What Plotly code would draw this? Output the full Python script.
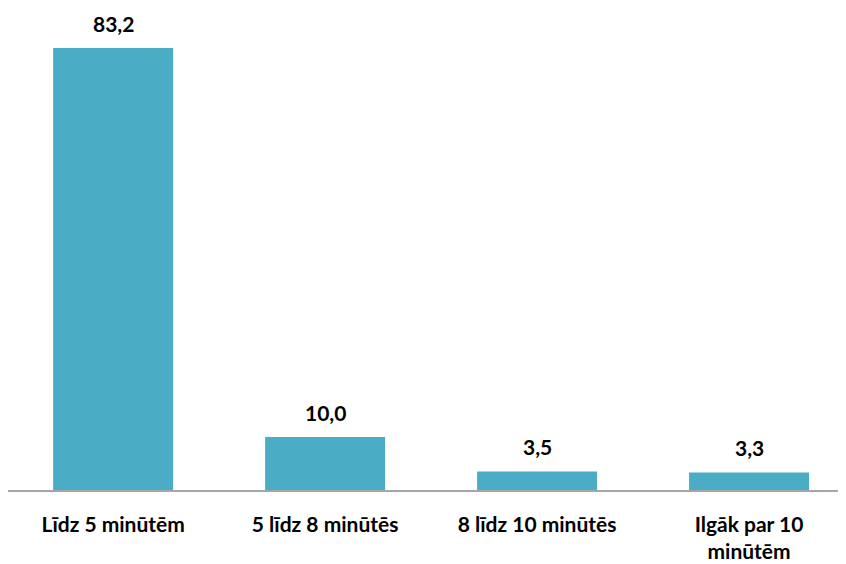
import plotly.graph_objects as go

categories = ["Līdz 5 minūtēm", "5 līdz 8 minūtēs", "8 līdz 10 minūtēs", "Ilgāk par 10<br>minūtēm"]
values = [83.2, 10.0, 3.5, 3.3]
value_labels = ["83,2", "10,0", "3,5", "3,3"]

FONT = "Lato"
fig = go.Figure()
fig.add_trace(go.Bar(
    x=list(range(len(categories))), y=values,
    marker=dict(color="#4BACC6", line=dict(width=0)),
    width=0.566, hoverinfo="skip",
))
for i, (v, t) in enumerate(zip(values, value_labels)):
    fig.add_annotation(x=i, y=v, text="<b>%s</b>" % t, showarrow=False,
                       yanchor="bottom", yshift=10,
                       font=dict(family=FONT, size=21, color="#000000"))

fig.update_layout(
    width=846, height=564,
    margin=dict(l=0, r=0, t=0, b=82),
    paper_bgcolor="white", plot_bgcolor="white",
    showlegend=False,
    xaxis=dict(
        range=[-0.496, 3.495],
        tickmode="array", tickvals=list(range(len(categories))),
        ticktext=["<b>%s</b>" % c for c in categories],
        tickfont=dict(family=FONT, size=21, color="#000000"),
        showline=True, linecolor="#A6A6A6", linewidth=1.5,
        showgrid=False, ticks="", zeroline=False,
        ticklabelstandoff=15,
    ),
    yaxis=dict(range=[0, 90.73], visible=False, showgrid=False, zeroline=False),
)
fig.write_html("out.html")
